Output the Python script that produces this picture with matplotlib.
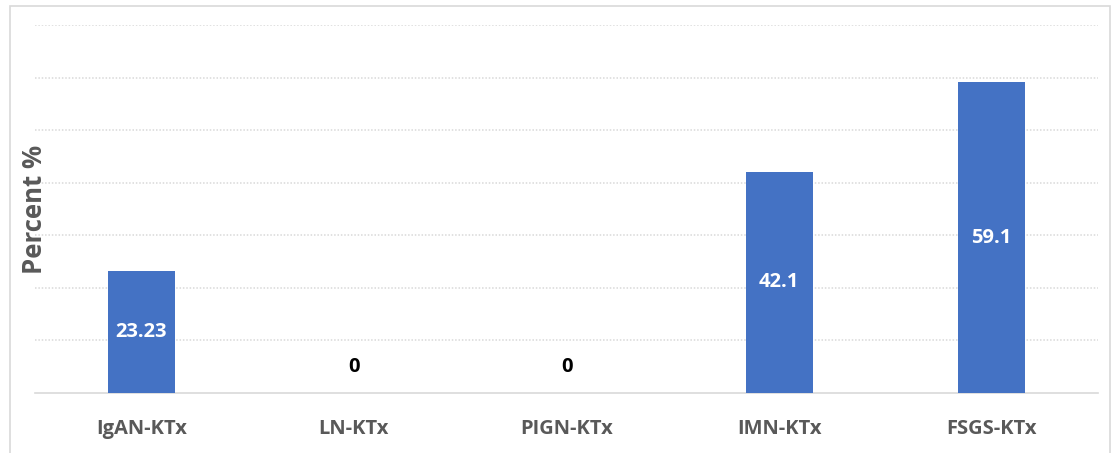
import matplotlib.pyplot as plt
from matplotlib.patches import Rectangle

plt.rcParams['font.family'] = ['Open Sans', 'DejaVu Sans']

# Recurrence by disease group
groups = ['IgAN-KTx', 'LN-KTx', 'PIGN-KTx', 'IMN-KTx', 'FSGS-KTx']
percent = [23.23, 0, 0, 42.1, 59.1]
value_text = ['23.23', '0', '0', '42.1', '59.1']

W, H = 1120, 453
fig = plt.figure(figsize=(W / 100, H / 100), dpi=100)

# thin chart frame, open at the bottom
fig.patches.append(Rectangle((10 / W, -0.05), 1100 / W, 1.05 - 6 / H,
                             transform=fig.transFigure, fill=False,
                             edgecolor='#d9d9d9', lw=1.2))

ax = fig.add_axes([35 / W, 1 - 393 / H, 1063 / W, 368 / H])

x = range(len(groups))
ax.bar(x, percent, width=0.315, color='#4472c4', zorder=3)

for xi, v, s in zip(x, percent, value_text):
    if v > 0:
        ax.text(xi, v / 2, s, ha='center', va='center', color='white',
                fontsize=14.5, fontweight='bold', zorder=4)
    else:
        ax.text(xi, 5, s, ha='center', va='center', color='black',
                fontsize=14.5, fontweight='bold', zorder=4)

ax.set_xlim(-0.5, 4.5)
ax.set_ylim(0, 70)
ax.set_yticks(range(10, 71, 10))
ax.yaxis.grid(True, color='#d9d9d9', linestyle=(0, (1, 1.2)), lw=1.1, zorder=0)
ax.tick_params(axis='y', left=False, labelleft=False)
ax.tick_params(axis='x', length=0, pad=19)
ax.set_xticks(list(x))
ax.set_xticklabels(groups, fontsize=14.5, fontweight='bold', color='#595959')

for side in ['top', 'right', 'left']:
    ax.spines[side].set_visible(False)
ax.spines['bottom'].set_color('#d9d9d9')
ax.spines['bottom'].set_linewidth(1.2)

fig.text(35 / W, 1 - 209 / H, 'Percent %', rotation=90, ha='center',
         va='center', fontsize=18.5, fontweight='bold', color='#595959')

fig.savefig('out.png', dpi=100)
